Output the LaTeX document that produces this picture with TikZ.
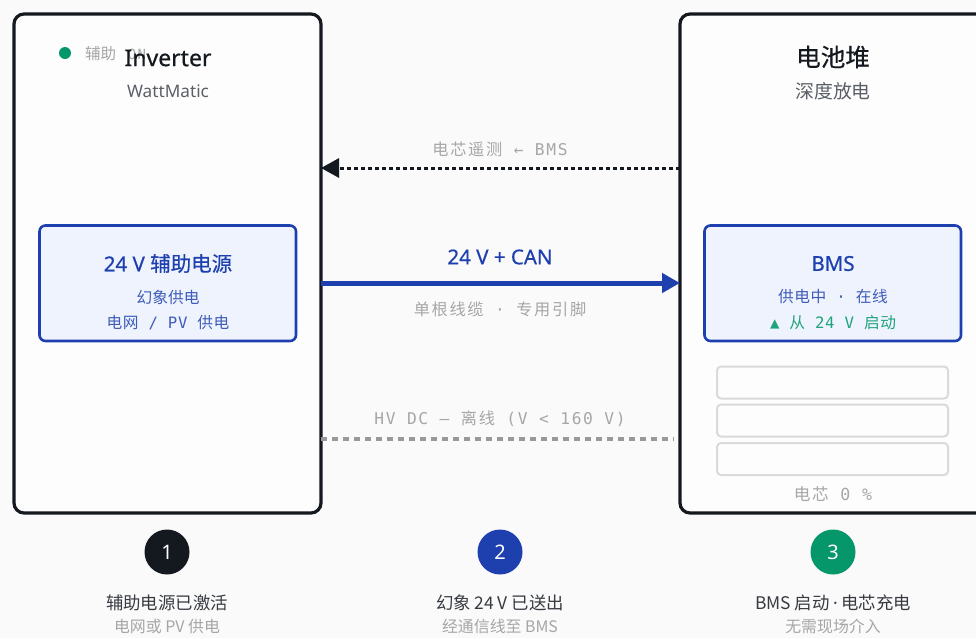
\documentclass[tikz,border=0pt]{standalone}
\usepackage{fontspec}
\setmainfont{Noto Sans}
\newfontfamily\medf[FakeBold=0.6]{Noto Sans}
\newfontfamily\cjkf{Noto Sans CJK SC}
\newfontfamily\cjkb[FakeBold=0.4]{Noto Sans CJK SC}
\newfontfamily\monof{DejaVu Sans Mono}
\newfontfamily\cjks[LetterSpace=10.5]{Noto Sans CJK SC}
\newfontfamily\monos[LetterSpace=10.5]{DejaVu Sans Mono}
\newfontfamily\cjkt[LetterSpace=3.5]{Noto Sans CJK SC}
\newfontfamily\monot[LetterSpace=3.5]{DejaVu Sans Mono}
\definecolor{ink}{HTML}{14181F}
\definecolor{blueA}{HTML}{1E40AF}
\definecolor{blueB}{HTML}{3F5CBA}
\definecolor{greenA}{HTML}{059669}
\definecolor{greenB}{HTML}{1FA37B}
\definecolor{paleB}{HTML}{EEF3FD}
\definecolor{bgA}{HTML}{FAFAFA}
\definecolor{panelA}{HTML}{FDFDFD}
\definecolor{grayT}{HTML}{A6A6A6}
\definecolor{grayM}{HTML}{5A5F66}
\definecolor{grayL}{HTML}{999999}
\definecolor{cellL}{HTML}{DADADA}
\usetikzlibrary{arrows.meta}
\tikzset{
 x=1pt,y=-1pt,
 panel/.style={draw=ink,line width=3.2pt,rounded corners=10pt,fill=panelA},
 inner/.style={draw=blueA,line width=2.6pt,rounded corners=6pt,fill=paleB},
 cellbox/.style={draw=cellL,line width=2pt,rounded corners=4pt,fill=panelA},
 txt/.style={inner sep=0pt,anchor=center,font=\cjkf},
 stepdot/.style={circle,minimum size=45pt,inner sep=0pt,text=white,font=\fontsize{20}{24}\selectfont},
 sigtext/.style={txt,text=grayT,font=\monos\fontsize{16.2}{19}\selectfont},
 subtext/.style={txt,font=\monot\fontsize{15.7}{18}\selectfont},
 headtext/.style={txt,text=blueA,font=\medf\fontsize{20.5}{25}\selectfont},
 steptitle/.style={txt,text=ink!85,font=\cjkf\fontsize{17.4}{20}\selectfont},
 stepnote/.style={txt,text=grayT,font=\cjkf\fontsize{15.9}{18}\selectfont},
}
\begin{document}
\begin{tikzpicture}
\useasboundingbox (0,0) rectangle (976,638);
\clip (0,0) rectangle (976,638);
\fill[bgA] (0,0) rectangle (976,638);
\draw[panel] (14,14) rectangle (321,513);
\draw[panel] (680,14) rectangle (1010,513);
\coordinate (L1) at (321,168); \coordinate (R1) at (680,168);
\coordinate (L2) at (321,283); \coordinate (R2) at (680,283);
\coordinate (L3) at (321,439); \coordinate (R3) at (674,439);
\draw[inner] (39.5,225.5) rectangle (296,341);
\draw[inner] (704.5,225.5) rectangle (961,341);
\draw[cellbox] (717,366.5) rectangle (948,398.5);
\draw[cellbox] (717,404.5) rectangle (948,436.5);
\draw[cellbox] (717,443) rectangle (948,475);
\draw[ink,line width=3pt,dash pattern=on 4pt off 3pt,-{Triangle[length=18pt,width=19pt]}] (R1) -- (L1);
\draw[blueA,line width=5pt,-{Triangle[length=18pt,width=19pt]}] (L2) -- (R2);
\draw[grayL,line width=3.2pt,dash pattern=on 6pt off 5pt] (L3) -- (R3);
\fill[greenA] (65,53) circle (6pt);
\node[txt,text=grayT,font=\cjkf\fontsize{15.5}{17}\selectfont] (aux) at (100.5,54) {辅助};
\node[txt,text=grayT,font=\monos\fontsize{14}{16}\selectfont] (pv) at (137,54) {ON};
\node[txt,text=ink,font=\medf\fontsize{23}{28}\selectfont] (inv) at (168,58) {Inverter};
\node[txt,text=grayM,font=\fontsize{17.2}{22}\selectfont] (wm) at (168,91) {WattMatic};
\node[txt,text=ink,font=\cjkb\fontsize{24.6}{28}\selectfont] (bat) at (833,57) {电池堆};
\node[txt,text=grayM,font=\cjkf\fontsize{18.9}{22}\selectfont] (dd) at (833,91) {深度放电};
\node[headtext] (a1) at (168,263.5) {24 V {\cjkb 辅助电源}};
\node[txt,text=blueB,font=\cjkf\fontsize{15.75}{18}\selectfont] (a2) at (168,297) {幻象供电};
\node[subtext,text=blueB] (a3) at (168,322.5) {{\cjkt 电网} / PV {\cjkt 供电}};
\node[headtext] (b1) at (833,263.5) {BMS};
\node[subtext,text=blueB] (b2) at (833,297) {{\cjkt 供电中} · {\cjkt 在线}};
\node[subtext,text=greenB] (b3) at (833,322.5) {▲ {\cjkt 从} 24 V {\cjkt 启动}};
\node[sigtext,font=\monos\fontsize{16.6}{19}\selectfont] (c0) at (833,494) {{\cjks 电芯} 0 \%};
\node[sigtext] (t1) at (500,149.5) {{\cjks 电芯遥测} ← BMS};
\node[headtext] (t2) at (500,257) {24 V + CAN};
\node[sigtext] (t3) at (500,309.5) {{\cjks 单根线缆} · {\cjks 专用引脚}};
\node[sigtext] (t4) at (500,418.5) {HV DC — {\cjks 离线} (V < 160 V)};
\node[stepdot,fill=ink] (s1) at (167,552) {1};
\node[stepdot,fill=blueA] (s2) at (500,552) {2};
\node[stepdot,fill=greenA] (s3) at (833,552) {3};
\node[steptitle] (l1) at (167,603) {辅助电源已激活};
\node[stepnote] (m1) at (167,626) {电网或 PV 供电};
\node[steptitle] (l2) at (500,603) {幻象 24 V 已送出};
\node[stepnote] (m2) at (500,626) {经通信线至 BMS};
\node[steptitle] (l3) at (833,603) {BMS 启动\hspace{3.5pt}{\rmfamily ·}\hspace{3.5pt}电芯充电};
\node[stepnote] (m3) at (833,626) {无需现场介入};
\end{tikzpicture}
\end{document}
